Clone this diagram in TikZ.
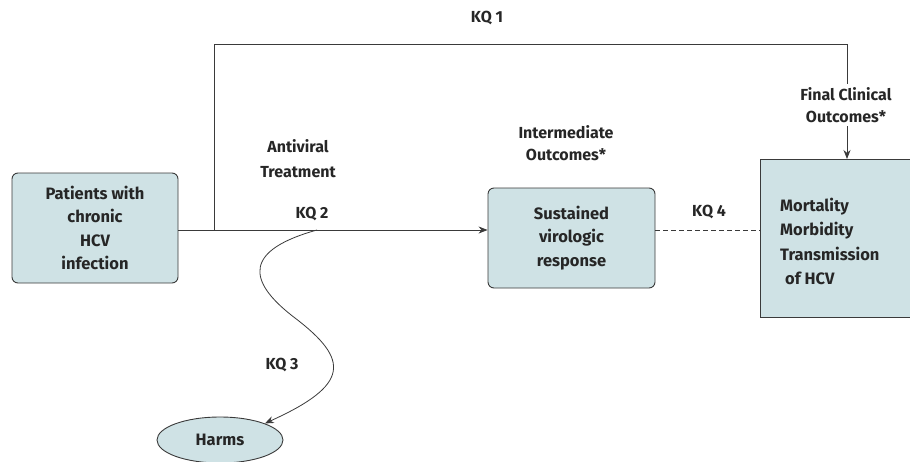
\documentclass[tikz,border=0pt]{standalone}
\usepackage{fontspec}
\setmainfont{Fira Sans}
\usepackage{xcolor}
\usetikzlibrary{positioning, arrows.meta, shapes.geometric}

\definecolor{boxfill}{HTML}{CFE2E5}
\definecolor{edge}{HTML}{3A3A3A}

\tikzset{
  kqbox/.style={draw=edge, fill=boxfill, line width=0.9pt, rounded corners=6pt, align=center, inner sep=0pt},
  lbl/.style={align=center, font=\fontsize{16}{22}\selectfont\bfseries, text=black!85},
  link/.style={draw=edge, line width=0.8pt}
}

\begin{document}
\begin{tikzpicture}[x=1pt, y=-1pt, >={Stealth[length=9pt,width=7pt]}, font=\fontsize{16.5}{23.5}\selectfont\bfseries]
  \useasboundingbox (0,0) rectangle (910,461);
  \clip (0,0) rectangle (910,461);

  % boxes
  \node[kqbox, minimum width=166pt, minimum height=110pt, text=black!85] (patients) at (95,228) {Patients with\\chronic\\HCV\\infection};
  \node[kqbox, minimum width=167pt, minimum height=100pt, text=black!85] (svr) at (571.5,238) {Sustained\\virologic\\response};
  \node[kqbox, rounded corners=0pt, minimum width=160pt, minimum height=158pt, anchor=north west] (outcomes) at (760,159) {};
  \node[anchor=north west, align=left, inner sep=0pt, text=black!85, font=\fontsize{16.5}{24.3}\selectfont\bfseries] (outtext) at (780,198) {Mortality\\Morbidity\\Transmission\\\hspace{5pt}of HCV};
  \node[draw=edge, fill=boxfill, line width=0.9pt, ellipse, minimum width=126pt, minimum height=46pt, inner sep=0pt, text=black!85] (harms) at (220,440) {Harms};

  % labels
  \node[lbl] (kq1) at (487,18) {KQ 1};
  \node[lbl] (kq2) at (312,214) {KQ 2};
  \node[lbl] (kq3) at (282,365) {KQ 3};
  \node[lbl] (kq4) at (709,212) {KQ 4};
  \node[lbl, font=\fontsize{16}{25}\selectfont\bfseries] (antiviral) at (298,159) {Antiviral\\Treatment};
  \node[lbl] (inter) at (566,143) {Intermediate\\Outcomes*};
  \node[lbl] (final) at (846,105) {Final Clinical\\Outcomes*};

  % connectors
  \coordinate (split) at (214,230);
  \coordinate (fork) at (317,230);
  \draw[link, ->] (patients.east |- split) -- (svr.west |- split);
  \draw[link] (split) -- (214,44) -- (847,44) -- (final.north -| 847,0);
  \draw[link, ->] (final.south -| 847,0) -- (outcomes.north -| 847,0);
  \draw[link, dashed, dash pattern=on 5pt off 3pt] (svr.east |- split) -- (outcomes.west |- split);
  \draw[link, ->] (fork) .. controls (245,250) and (245,280) .. (295,318)
    .. controls (350,360) and (350,385) .. (harms.north east);
\end{tikzpicture}
\end{document}
